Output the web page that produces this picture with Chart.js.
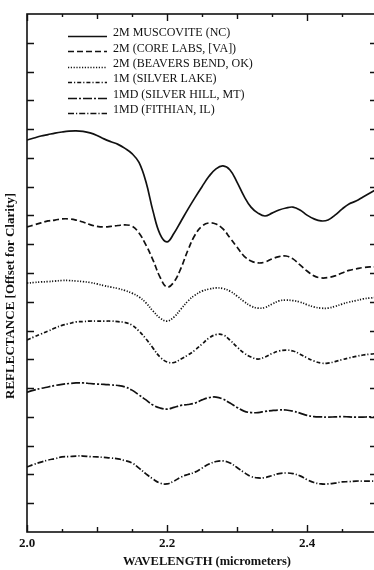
<!DOCTYPE html>
<html>
<head>
<meta charset="utf-8">
<script src="https://cdn.jsdelivr.net/npm/chart.js@4.4.0/dist/chart.umd.min.js"></script>
<style>
  html, body { margin: 0; padding: 0; background: #fff; overflow: hidden; }
  #wrap { width: 374px; height: 570px; overflow: hidden; }
</style>
</head>
<body>
<div id="wrap"><canvas id="spectra" width="380" height="570"></canvas></div>
<script>
// wavelength in micrometers
const wavelengths = [2.00, 2.01, 2.02, 2.03, 2.04, 2.05, 2.06, 2.07, 2.08, 2.09,
  2.10, 2.11, 2.12, 2.13, 2.14, 2.15, 2.16, 2.17, 2.18, 2.19,
  2.20, 2.21, 2.22, 2.23, 2.24, 2.25, 2.26, 2.27, 2.28, 2.29,
  2.30, 2.31, 2.32, 2.33, 2.34, 2.35, 2.36, 2.37, 2.38, 2.39,
  2.40, 2.41, 2.42, 2.43, 2.44, 2.45, 2.46, 2.47, 2.48, 2.49, 2.50];

// reflectance, offset for clarity (one unit = one tick)
const muscovite = [13.62, 13.69, 13.76, 13.81, 13.86, 13.90, 13.93, 13.94, 13.92, 13.87,
  13.78, 13.66, 13.56, 13.47, 13.33, 13.15, 12.84, 12.16, 11.15, 10.35,
  10.08, 10.38, 10.80, 11.22, 11.62, 12.00, 12.36, 12.62, 12.72, 12.58,
  12.16, 11.67, 11.29, 11.08, 10.98, 11.08, 11.19, 11.26, 11.29, 11.19,
  11.01, 10.88, 10.81, 10.84, 11.01, 11.22, 11.40, 11.50, 11.64, 11.78, 11.92];
const coreLabs = [10.60, 10.67, 10.74, 10.81, 10.84, 10.88, 10.88, 10.84, 10.77, 10.68,
  10.62, 10.60, 10.62, 10.65, 10.67, 10.63, 10.39, 9.97, 9.45, 8.86,
  8.51, 8.69, 9.17, 9.80, 10.32, 10.63, 10.74, 10.70, 10.53, 10.22,
  9.90, 9.59, 9.42, 9.35, 9.38, 9.49, 9.57, 9.59, 9.49, 9.28,
  9.07, 8.90, 8.83, 8.84, 8.90, 9.00, 9.09, 9.14, 9.19, 9.21, 9.21];
const beaversBend = [8.65, 8.67, 8.69, 8.70, 8.72, 8.74, 8.74, 8.72, 8.70, 8.67,
  8.62, 8.56, 8.51, 8.46, 8.39, 8.30, 8.17, 7.96, 7.68, 7.44,
  7.33, 7.47, 7.75, 8.03, 8.23, 8.37, 8.44, 8.48, 8.46, 8.37,
  8.20, 8.01, 7.85, 7.78, 7.80, 7.92, 8.03, 8.06, 8.04, 7.99,
  7.90, 7.82, 7.78, 7.78, 7.84, 7.92, 7.99, 8.04, 8.10, 8.13, 8.15];
const silverLake = [6.67, 6.78, 6.88, 6.98, 7.09, 7.18, 7.24, 7.30, 7.31, 7.33,
  7.33, 7.33, 7.33, 7.31, 7.28, 7.19, 6.98, 6.71, 6.39, 6.08,
  5.91, 5.89, 6.01, 6.15, 6.32, 6.53, 6.74, 6.86, 6.85, 6.67,
  6.43, 6.22, 6.08, 6.01, 6.08, 6.20, 6.29, 6.32, 6.29, 6.18,
  6.05, 5.94, 5.87, 5.87, 5.92, 5.99, 6.05, 6.10, 6.15, 6.18, 6.20];
const silverHill = [4.86, 4.93, 4.99, 5.04, 5.09, 5.13, 5.16, 5.18, 5.18, 5.16,
  5.14, 5.13, 5.11, 5.09, 5.04, 4.93, 4.76, 4.59, 4.41, 4.31,
  4.27, 4.33, 4.40, 4.43, 4.48, 4.59, 4.67, 4.69, 4.62, 4.48,
  4.33, 4.20, 4.15, 4.15, 4.19, 4.22, 4.24, 4.24, 4.20, 4.13,
  4.05, 4.01, 4.00, 3.99, 4.00, 4.01, 4.00, 3.99, 3.99, 4.00, 3.98];
const fithian = [2.26, 2.35, 2.43, 2.50, 2.55, 2.61, 2.62, 2.64, 2.64, 2.62,
  2.61, 2.59, 2.57, 2.54, 2.48, 2.40, 2.22, 2.02, 1.84, 1.70,
  1.67, 1.77, 1.91, 2.00, 2.08, 2.22, 2.36, 2.45, 2.47, 2.40,
  2.24, 2.07, 1.93, 1.88, 1.89, 1.96, 2.03, 2.05, 2.03, 1.95,
  1.82, 1.72, 1.67, 1.67, 1.70, 1.74, 1.75, 1.77, 1.77, 1.77, 1.77];

const seriesNames = ['2M MUSCOVITE (NC)', '2M (CORE LABS, [VA])', '2M (BEAVERS BEND, OK)',
  '1M (SILVER LAKE)', '1MD (SILVER HILL, MT)', '1MD (FITHIAN, IL)'];

const xLabelTicks = [2.0, 2.2, 2.4];
const xTickLabels = ['2.0', '2.2', '2.4'];
const xMidTicks = [2.1, 2.3];
const xMinorTicks = [2.05, 2.15, 2.25, 2.35, 2.45];
const yTicks = [1, 2, 3, 4, 5, 6, 7, 8, 9, 10, 11, 12, 13, 14, 15, 16, 17];

const dashes = [[], [6, 3], [1.2, 1.6], [4, 2, 1.2, 2], [9, 2, 2, 2], [6, 2, 1.2, 2]];
const allSeries = [muscovite, coreLabs, beaversBend, silverLake, silverHill, fithian];

const serif = '"Liberation Serif", "Times New Roman", serif';

// frame, inward ticks, labels and the legend box
const axesPlugin = {
  id: 'axesPlugin',
  afterDraw(chart) {
    const ctx = chart.ctx;
    const a = chart.chartArea;
    const xs = chart.scales.x, ys = chart.scales.y;
    ctx.save();
    ctx.strokeStyle = '#111';
    ctx.fillStyle = '#111';
    ctx.setLineDash([]);
    ctx.lineWidth = 1.6;
    ctx.strokeRect(a.left, a.top, a.right - a.left, a.bottom - a.top);

    ctx.lineWidth = 1.4;
    const xTick = (v, len) => {
      const px = Math.round(xs.getPixelForValue(v)) + 0.5;
      ctx.beginPath();
      ctx.moveTo(px, a.bottom); ctx.lineTo(px, a.bottom - len);
      ctx.moveTo(px, a.top); ctx.lineTo(px, a.top + len);
      ctx.stroke();
    };
    xLabelTicks.forEach(v => xTick(v, 7));
    xMidTicks.forEach(v => xTick(v, 5));
    xMinorTicks.forEach(v => xTick(v, 3));
    yTicks.forEach(v => {
      const py = Math.round(ys.getPixelForValue(v)) + 0.5;
      ctx.beginPath();
      ctx.moveTo(a.left, py); ctx.lineTo(a.left + 7, py);
      ctx.moveTo(a.right, py); ctx.lineTo(a.right - 7, py);
      ctx.stroke();
    });

    ctx.font = 'bold 13px ' + serif;
    ctx.textAlign = 'center';
    ctx.textBaseline = 'middle';
    xLabelTicks.forEach((v, i) => {
      ctx.fillText(xTickLabels[i], xs.getPixelForValue(v), a.bottom + 12);
    });
    ctx.font = 'bold 12.5px ' + serif;
    ctx.fillText('WAVELENGTH (micrometers)', 207, 562);

    ctx.save();
    ctx.translate(11, 296);
    ctx.rotate(-Math.PI / 2);
    ctx.font = 'bold 13px ' + serif;
    ctx.fillText('REFLECTANCE [Offset for Clarity]', 0, 0);
    ctx.restore();

    // legend
    ctx.font = '12px ' + serif;
    ctx.textAlign = 'left';
    chart.data.datasets.forEach((ds, i) => {
      const y = 33 + i * 15.4;
      ctx.setLineDash(ds.borderDash);
      ctx.lineWidth = 1.5;
      ctx.beginPath();
      ctx.moveTo(68, Math.round(y + 3) + 0.5);
      ctx.lineTo(107, Math.round(y + 3) + 0.5);
      ctx.stroke();
      ctx.setLineDash([]);
      ctx.fillText(ds.label, 113, y);
    });
    ctx.restore();
  }
};

new Chart(document.getElementById('spectra'), {
  type: 'line',
  data: {
    datasets: allSeries.map((s, i) => ({
      label: seriesNames[i],
      data: s.map((v, j) => ({ x: wavelengths[j], y: v })),
      borderColor: '#111',
      borderWidth: 1.7,
      borderDash: dashes[i],
      pointRadius: 0,
      tension: 0.4,
      fill: false
    }))
  },
  options: {
    responsive: false,
    animation: false,
    layout: { padding: { left: 27, right: 3, top: 14, bottom: 38 } },
    plugins: { legend: { display: false }, tooltip: { enabled: false } },
    scales: {
      x: { type: 'linear', min: 2.0, max: 2.5, display: false },
      y: { min: 0, max: 18, display: false }
    }
  },
  plugins: [axesPlugin]
});
</script>
</body>
</html>
